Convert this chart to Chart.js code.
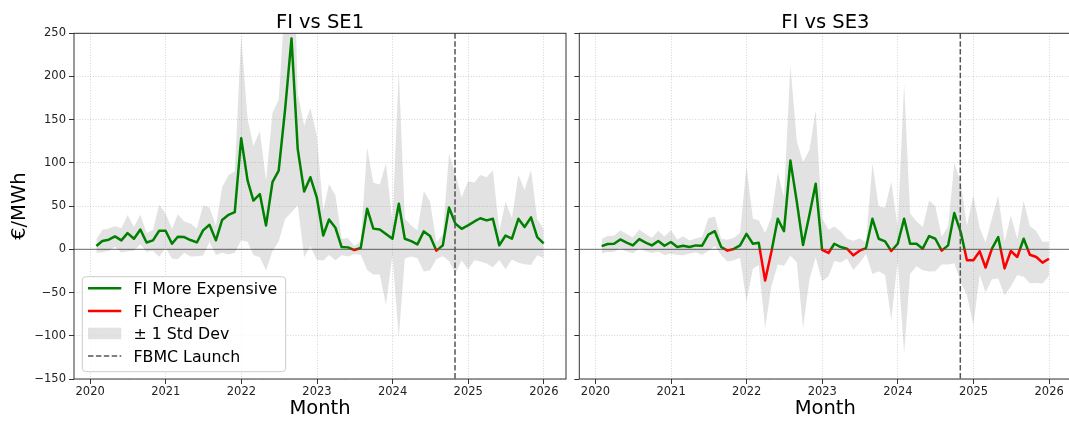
<!DOCTYPE html>
<html>
<head>
<meta charset="utf-8">
<script src="https://cdn.jsdelivr.net/npm/chart.js@4.4.0/dist/chart.umd.min.js"></script>
<style>
  html, body { margin: 0; padding: 0; background: #ffffff; }
  body { width: 1069px; height: 421px; overflow: hidden; position: relative; }
  canvas { position: absolute; top: 0; }
  #se1 { left: 0; }
  #se3 { left: 572px; }
</style>
</head>
<body>
<canvas id="se1" width="572" height="421"></canvas>
<canvas id="se3" width="503" height="421"></canvas>
<script>
// Monthly FI price spread against SE1 / SE3 (€/MWh), Jan 2020 – Dec 2025
const START_YEAR = 2020;
const N_MONTHS = 72;
const YEAR_TICKS = [2020, 2021, 2022, 2023, 2024, 2025, 2026];
const Y_TICKS = [-150, -100, -50, 0, 50, 100, 150, 200, 250];
const FBMC_LAUNCH = '2024-10-29';

const SE1_MEAN = [
  3.8, 9.6, 11.2, 15, 10.4, 18.8, 12.3, 23, 8, 10.4, 21.5, 21.5,
  6.5, 14.6, 14.2, 10.8, 8, 22, 28.5, 10.4, 34, 40, 43, 128.5,
  79.6, 56.5, 64, 27.7, 77.7, 91, 162, 244, 116, 67, 83.5, 60,
  16, 34.6, 25, 2.7, 2.3, -0.8, 1.5, 47, 24, 23, 17.7, 12.3,
  52.7, 12.3, 9.6, 5.8, 20.8, 15.4, -1.5, 4.6, 48.5, 29.6, 23.8, 27.7,
  32.3, 36, 33.5, 35.4, 4.6, 16, 12.3, 35.4, 25.8, 37, 14.2, 6.9
];
const SE1_STD = [
  8, 13, 13, 12, 14, 21, 14, 17, 11, 12, 30, 20,
  17, 26, 18, 19, 16, 29, 20, 17, 38, 46, 47, 118,
  71, 63, 73, 52, 80, 82, 127, 201, 65, 76, 80, 72,
  29, 41, 37.5, 9.6, 10.6, 4.8, 7.7, 71, 53, 52, 82, 19,
  154, 23, 18, 16, 46.5, 40, 9.6, 12.5, 62, 57, 36.5, 51,
  45, 50, 50, 56, 17, 39, 24, 51, 43, 55, 21, 17
];
const SE3_MEAN = [
  3.8, 6.2, 6.5, 11.5, 7.7, 4.6, 11.9, 7.7, 4.6, 9.6, 4.2, 8.5,
  2.7, 4.2, 2.7, 4.6, 4.2, 17, 21, 2.7, -1.5, 0.5, 4.6, 18,
  6.5, 7.7, -36, -3, 35.4, 21, 102.7, 55, 5, 40, 76, -0.5,
  -4.2, 6.5, 2.7, 0.8, -6.9, -1.5, 1.5, 35.4, 12.3, 9.2, -1.9, 6.5,
  35.4, 6.5, 6.5, 0.8, 15.4, 12.3, -1.5, 4.6, 42, 20, -12.7, -12.7,
  -2.3, -21, 0.8, 14.2, -22, -1.9, -8.8, 12.3, -6.2, -8.8, -15.4, -10.8
];
const SE3_STD = [
  8.3, 9.2, 9.2, 10.6, 10.2, 9.2, 11, 10, 8.8, 12, 10.8, 13.5,
  8.8, 11, 7.5, 8, 10.4, 19, 17, 9.6, 12.5, 13, 14.4, 78.5,
  29, 26, 55, 40, 53, 40, 110, 70, 96, 75, 85, 36.5,
  27, 20, 18, 11.5, 17, 14, 7, 64, 37.5, 39, 80, 19,
  156, 35, 26, 25, 41, 37.5, 16, 22, 58, 58, 40, 75,
  27, 29, 35.5, 48, 31, 41, 21, 44, 33, 30, 24, 20
];

const GREEN = '#008000';
const RED = '#ff0000';
const BAND = 'rgba(128,128,128,0.23)';
const GRID = 'rgba(0,0,0,0.22)';
const FONT = 'DejaVu Sans';
const LINE_W = 2.5;

Chart.defaults.font.family = FONT;
Chart.defaults.color = '#222';

// Month-end dates as decimal years
function decimalYear(ms) {
  const y = new Date(ms).getUTCFullYear();
  const a = Date.UTC(y, 0, 1), b = Date.UTC(y + 1, 0, 1);
  return y + (ms - a) / (b - a);
}
const MONTH_X = Array.from({ length: N_MONTHS }, (_, i) => decimalYear(Date.UTC(START_YEAR, i + 1, 0)));
const FBMC_X = decimalYear(Date.parse(FBMC_LAUNCH + 'T00:00:00Z'));
const SPAN = MONTH_X[N_MONTHS - 1] - MONTH_X[0];
const X_MIN = MONTH_X[0] - 0.05 * SPAN;
const X_MAX = MONTH_X[N_MONTHS - 1] + 0.05 * SPAN;

// Line colour: green above zero, red below
function signColour(context) {
  const chart = context.chart;
  const area = chart.chartArea;
  if (!area) return GREEN;
  const y0 = chart.scales.y.getPixelForValue(0);
  const t = Math.min(1, Math.max(0, (y0 - area.top) / (area.bottom - area.top)));
  const g = chart.ctx.createLinearGradient(0, area.top, 0, area.bottom);
  g.addColorStop(0, GREEN);
  g.addColorStop(t, GREEN);
  g.addColorStop(t, RED);
  g.addColorStop(1, RED);
  return g;
}

function drawLegend(ctx, area) {
  const left = area.left + 8.3, bottom = area.bottom - 7.3;
  const w = 203.4, h = 95;
  const top = bottom - h;
  ctx.save();
  ctx.beginPath();
  ctx.roundRect(left, top, w, h, 3.5);
  ctx.fillStyle = 'rgba(255,255,255,0.8)';
  ctx.fill();
  ctx.strokeStyle = '#cccccc';
  ctx.lineWidth = 1;
  ctx.stroke();

  const hx0 = left + 5.7, hx1 = left + 39, tx = left + 51.2;
  const rows = [0, 1, 2, 3].map(k => top + 11.6 + k * 22.6);
  const labels = ['FI More Expensive', 'FI Cheaper', '\u00b1 1 Std Dev', 'FBMC Launch'];

  ctx.lineWidth = LINE_W;
  ctx.lineCap = 'butt';
  ctx.strokeStyle = GREEN;
  ctx.beginPath(); ctx.moveTo(hx0, rows[0]); ctx.lineTo(hx1, rows[0]); ctx.stroke();
  ctx.strokeStyle = RED;
  ctx.beginPath(); ctx.moveTo(hx0, rows[1]); ctx.lineTo(hx1, rows[1]); ctx.stroke();
  ctx.fillStyle = BAND;
  ctx.fillRect(hx0, rows[2] - 5.8, hx1 - hx0, 11.6);
  ctx.strokeStyle = '#555555';
  ctx.lineWidth = 1.5;
  ctx.setLineDash([5.5, 2.4]);
  ctx.beginPath(); ctx.moveTo(hx0, rows[3]); ctx.lineTo(hx1, rows[3]); ctx.stroke();
  ctx.setLineDash([]);

  ctx.fillStyle = '#000';
  ctx.font = '15.8px "' + FONT + '"';
  ctx.textAlign = 'left';
  ctx.textBaseline = 'alphabetic';
  labels.forEach((s, k) => ctx.fillText(s, tx, rows[k] + 5.6));
  ctx.restore();
}

const panelDecor = {
  id: 'panelDecor',
  beforeDatasetDraw(chart, args) {
    if (args.index !== 0) return;
    const { ctx, chartArea: a } = chart;
    const y0 = chart.scales.y.getPixelForValue(0);
    ctx.save();
    ctx.strokeStyle = 'rgba(0,0,0,0.45)';
    ctx.lineWidth = 1.4;
    ctx.beginPath(); ctx.moveTo(a.left, y0); ctx.lineTo(a.right, y0); ctx.stroke();
    ctx.restore();
  },
  afterDatasetsDraw(chart) {
    const { ctx, chartArea: a } = chart;
    const x = chart.scales.x.getPixelForValue(FBMC_X);
    ctx.save();
    ctx.strokeStyle = '#555555';
    ctx.lineWidth = 1.5;
    ctx.setLineDash([5.5, 2.4]);
    ctx.beginPath(); ctx.moveTo(x, a.top); ctx.lineTo(x, a.bottom); ctx.stroke();
    ctx.restore();
  },
  afterDraw(chart, args, opts) {
    const { ctx, chartArea: a } = chart;
    ctx.save();
    ctx.strokeStyle = '#333';
    ctx.lineWidth = 1;
    ctx.strokeRect(a.left, a.top, a.right - a.left, a.bottom - a.top);
    ctx.fillStyle = '#000';
    ctx.font = '19.5px "' + FONT + '"';
    ctx.textAlign = 'center';
    ctx.textBaseline = 'alphabetic';
    ctx.fillText(opts.title, (a.left + a.right) / 2, 27.5);
    ctx.restore();
    if (opts.legend) drawLegend(ctx, a);
  }
};

function makePanel(canvasId, title, mean, std, cfg) {
  const pts = arr => MONTH_X.map((x, i) => ({ x, y: arr[i] }));
  const upper = mean.map((m, i) => m + std[i]);
  const lower = mean.map((m, i) => m - std[i]);
  return new Chart(document.getElementById(canvasId), {
    type: 'line',
    data: {
      datasets: [
        { data: pts(mean), borderColor: signColour, borderWidth: LINE_W, pointRadius: 0,
          borderJoinStyle: 'round', fill: false, tension: 0 },
        { data: pts(upper), borderColor: 'transparent', borderWidth: 0, pointRadius: 0,
          backgroundColor: BAND, fill: '+1' },
        { data: pts(lower), borderColor: 'transparent', borderWidth: 0, pointRadius: 0, fill: false }
      ]
    },
    options: {
      responsive: false,
      animation: false,
      events: [],
      layout: { padding: { left: 0, right: cfg.padRight, top: 33.3, bottom: 0 } },
      plugins: {
        legend: { display: false },
        tooltip: { enabled: false },
        panelDecor: { title, legend: cfg.legend }
      },
      scales: {
        x: {
          type: 'linear', min: X_MIN, max: X_MAX,
          afterBuildTicks: ax => { ax.ticks = YEAR_TICKS.map(v => ({ value: v })); },
          afterFit: ax => { ax.height = 42; },
          ticks: { font: { size: 11.5 }, color: '#222', padding: 1, maxRotation: 0, autoSkip: false,
                   callback: v => String(v) },
          grid: { color: GRID, lineWidth: 0.8, drawTicks: true, tickLength: 5,
                  tickColor: '#333', tickWidth: 1, tickBorderDash: [] },
          border: { display: false, dash: [1, 1.7] },
          title: { display: true, text: 'Month', color: '#000', font: { size: 19.5 },
                   padding: { top: 0, bottom: 0 } }
        },
        y: {
          type: 'linear', min: -150, max: 250,
          afterBuildTicks: ax => { ax.ticks = Y_TICKS.map(v => ({ value: v })); },
          afterFit: ax => { ax.width = cfg.yWidth; },
          ticks: { display: cfg.yLabels, font: { size: 11.5 }, color: '#222', padding: 3,
                   callback: v => (v < 0 ? '\u2212' + Math.abs(v) : String(v)) },
          grid: { color: GRID, lineWidth: 0.8, drawTicks: true, tickLength: 5,
                  tickColor: '#333', tickWidth: 1, tickBorderDash: [] },
          border: { display: false, dash: [1, 1.7] },
          title: { display: cfg.yLabels, text: '\u20ac/MWh', color: '#000', font: { size: 19.5 },
                   padding: { top: 8, bottom: 0 } }
        }
      }
    },
    plugins: [panelDecor]
  });
}

makePanel('se1', 'FI vs SE1', SE1_MEAN, SE1_STD, { padRight: 6, yWidth: 74, yLabels: true, legend: true });
makePanel('se3', 'FI vs SE3', SE3_MEAN, SE3_STD, { padRight: 3.7, yWidth: 7.3, yLabels: false, legend: false });
</script>
</body>
</html>
